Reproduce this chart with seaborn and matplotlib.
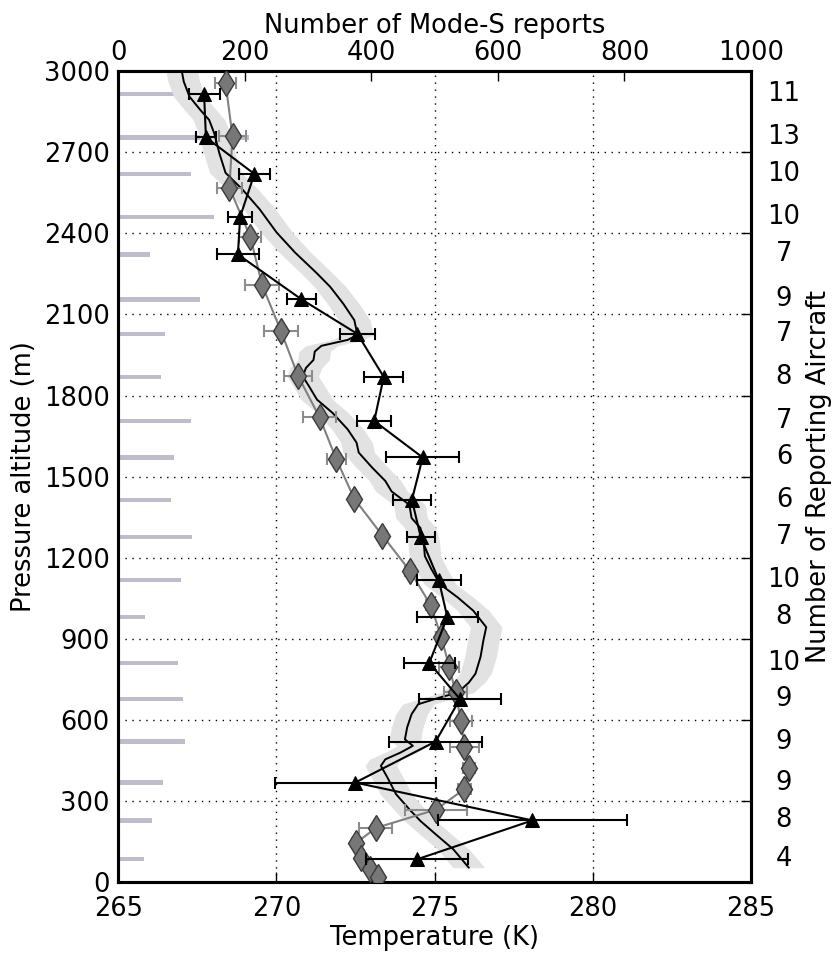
import matplotlib
matplotlib.use("Agg")
import matplotlib.pyplot as plt
import matplotlib.transforms as mtransforms
import seaborn as sns
import numpy as np

# Radiosonde profile (temperature K, altitude m), top to bottom
sonde_temp = [267.01, 267.07, 267.25, 267.59, 267.87, 268.03, 268.19, 268.39, 268.92, 269.47,
              270.00, 270.58, 271.28, 271.70, 272.11, 272.46, 272.56, 272.25, 271.42, 271.21,
              271.17, 270.93, 270.83, 271.03, 271.28, 271.77, 272.25, 272.53, 272.60, 273.02,
              273.44, 273.64, 274.20, 274.27, 274.55, 274.65, 274.69, 274.90, 275.17, 275.73,
              276.22, 276.63, 276.54, 276.45, 276.29, 276.08, 275.73, 275.17, 274.48, 274.27,
              274.13, 274.06, 274.31, 273.92, 273.44, 273.30, 273.51, 273.78, 274.20, 274.55,
              275.03, 275.59, 276.08]
sonde_alt = [2998, 2961, 2906, 2857, 2820, 2771, 2698, 2624, 2563, 2489,
             2404, 2330, 2252, 2202, 2140, 2079, 2024, 2006, 1984, 1963,
             1932, 1902, 1871, 1834, 1785, 1736, 1675, 1626, 1589, 1534,
             1484, 1445, 1396, 1347, 1310, 1261, 1206, 1157, 1102, 1053,
             1004, 943, 894, 833, 771, 738, 701, 683, 658, 621,
             572, 528, 504, 479, 454, 430, 386, 325, 269, 226,
             177, 121, 53]

# Mode-S derived temperatures (triangles), per altitude bin
modes_alt = [2916, 2755, 2620, 2461, 2322, 2156, 2028, 1869, 1706, 1571,
             1414, 1276, 1117, 980, 811, 677, 520, 368, 228, 84]
modes_temp = [267.71, 267.77, 269.30, 268.85, 268.78, 270.79, 272.56, 273.39, 273.09, 274.62,
              274.28, 274.56, 275.13, 275.40, 274.83, 275.80, 275.03, 272.49, 278.09, 274.44]
modes_err = [0.49, 0.33, 0.50, 0.38, 0.66, 0.45, 0.55, 0.61, 0.53, 1.15,
             0.59, 0.45, 0.70, 0.96, 0.81, 1.30, 1.46, 2.55, 2.98, 1.60]
n_reports = [94, 206, 115, 152, 50, 129, 74, 67, 115, 88,
             84, 117, 99, 42, 95, 102, 106, 70, 54, 40]
n_aircraft = [11, 13, 10, 10, 7, 9, 7, 8, 7, 6,
              6, 7, 10, 8, 10, 9, 9, 9, 8, 4]

# Second series (diamonds)
dia_alt = [2955, 2759, 2569, 2388, 2208, 2039, 1873, 1720, 1565, 1418,
           1282, 1151, 1024, 906, 797, 702, 595, 501, 421, 344,
           268, 200, 145, 89, 49, 18]
dia_temp = [268.39, 268.61, 268.51, 269.17, 269.55, 270.14, 270.68, 271.36, 271.89, 272.46,
            273.35, 274.22, 274.88, 275.21, 275.46, 275.66, 275.83, 275.94, 276.08, 275.94,
            275.04, 273.14, 272.52, 272.67, 272.94, 273.22]
dia_err = [0.33, 0.42, 0.39, 0.35, 0.54, 0.55, 0.44, 0.51, 0.30, 0.15,
           0.15, 0.15, 0.15, 0.16, 0.31, 0.36, 0.34, 0.46, 0.20, 0.20,
           0.97, 0.52, 0.14, 0.12, 0.10, 0.10]

sns.set_style("white")
plt.rcParams['font.family'] = ['DejaVu Sans']
plt.rcParams['text.color'] = 'k'
plt.rcParams['axes.labelcolor'] = 'k'
plt.rcParams['xtick.color'] = 'k'
plt.rcParams['ytick.color'] = 'k'
fs = 18.5

fig = plt.figure(figsize=(8.38, 9.55), dpi=100)
ax = fig.add_axes([0.1412, 0.0764, 0.755, 0.849])
ax2 = ax.twiny()
ax.set_zorder(2)
ax2.set_zorder(1)
ax.patch.set_visible(False)
ax2.patch.set_visible(True)
ax2.patch.set_facecolor('white')

# report count bars on the top axis
ax2.barh(modes_alt, n_reports, height=16, color='#bdbdcb', edgecolor='none')
ax2.set_xlim(0, 1000)
ax2.set_xticks(np.arange(0, 1001, 200))
ax2.set_xlabel('Number of Mode-S reports', fontsize=fs, labelpad=5)
ax2.tick_params(axis='x', direction='in', length=7, width=1, labelsize=fs, pad=4,
                top=True, bottom=False)

# radiosonde with uncertainty band
s_t = np.array(sonde_temp)
ax.fill_betweenx(sonde_alt, s_t - 0.5, s_t + 0.5, color='#e2e2e2', lw=0, zorder=1)
sns.lineplot(x=sonde_temp, y=sonde_alt, sort=False, estimator=None, ax=ax,
             color='k', lw=1.4, zorder=3)

# diamonds series
ax.errorbar(dia_temp, dia_alt, xerr=dia_err, fmt='none', ecolor='#8c8c8c',
            elinewidth=1.5, capsize=4, capthick=1.5, zorder=4)
sns.lineplot(x=dia_temp, y=dia_alt, sort=False, estimator=None, ax=ax,
             color='#808080', lw=1.5, marker='d', markersize=13,
             markerfacecolor='#777777', markeredgecolor='#3a3a3a',
             markeredgewidth=1, zorder=5)

# triangles series
ax.errorbar(modes_temp, modes_alt, xerr=modes_err, fmt='none', ecolor='k',
            elinewidth=1.5, capsize=4, capthick=1.5, zorder=6)
sns.lineplot(x=modes_temp, y=modes_alt, sort=False, estimator=None, ax=ax,
             color='k', lw=1.5, marker='^', markersize=10,
             markerfacecolor='k', markeredgecolor='k', zorder=7)

ax.set_xlim(265, 285)
ax.set_ylim(0, 3000)
ax.set_xticks([265, 270, 275, 280, 285])
ax.set_yticks(np.arange(0, 3001, 300))
ax.grid(True, color='k', linestyle=(0, (1, 4)), linewidth=1)
ax.tick_params(axis='x', direction='in', length=7, width=1, labelsize=fs, pad=10,
               top=False)
ax.tick_params(axis='y', direction='in', length=7, width=1, labelsize=fs, pad=6,
               right=True, labelright=False)
ax.set_xlabel('Temperature (K)', fontsize=fs, labelpad=2)
ax.set_ylabel('Pressure altitude (m)', fontsize=fs, labelpad=5)

for a in (ax, ax2):
    for sp in a.spines.values():
        sp.set_linewidth(2.2)
        sp.set_color('k')

# number of reporting aircraft at the right
trans = mtransforms.blended_transform_factory(ax.transAxes, ax.transData)
for alt, n in zip(modes_alt, n_aircraft):
    ax.text(1.052, alt, str(n), transform=trans, ha='center', va='center',
            fontsize=fs, clip_on=False)
ax.text(1.108, 0.5, 'Number of Reporting Aircraft', transform=ax.transAxes,
        rotation=90, ha='center', va='center', fontsize=fs)

fig.savefig('out.png', dpi=100)
